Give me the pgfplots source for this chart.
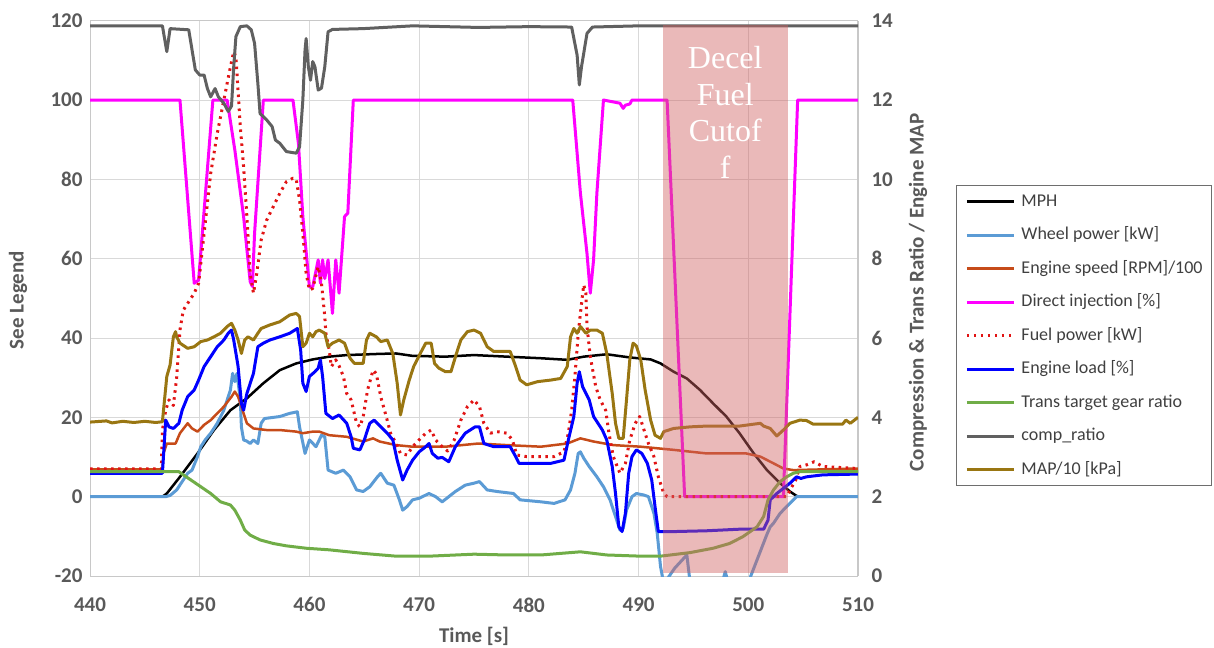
\documentclass[border=0pt]{standalone}
\usepackage{pgfplots}
\pgfplotsset{compat=1.18}
\usepackage{fontspec}
\setmainfont{Carlito}
\newfontfamily\serifface{Liberation Serif}

\definecolor{tickgrey}{RGB}{89,89,89}
\definecolor{gridgrey}{RGB}{217,217,217}
\definecolor{axisgrey}{RGB}{200,200,200}
\definecolor{legendgrey}{RGB}{110,110,110}
\definecolor{legendtext}{RGB}{64,64,64}
\definecolor{cMPH}{RGB}{0,0,0}
\definecolor{cWheel}{RGB}{91,155,213}
\definecolor{cSpeed}{RGB}{198,75,25}
\definecolor{cDI}{RGB}{255,0,255}
\definecolor{cFuel}{RGB}{225,20,20}
\definecolor{cLoad}{RGB}{0,0,255}
\definecolor{cGear}{RGB}{112,173,71}
\definecolor{cComp}{RGB}{96,96,96}
\definecolor{cMAP}{RGB}{153,118,18}
\definecolor{cShade}{RGB}{208,99,99}

\pgfplotsset{
  chartbase/.style={
    scale only axis, width=768bp, height=555.3bp,
    at={(90bp,72bp)}, anchor=south west,
    xmin=440, xmax=510, enlargelimits=false,
    major tick length=0pt, tick style={draw=none},
    /pgf/number format/assume math mode=true,
    ticklabel style={font=\fontsize{21bp}{24bp}\selectfont\bfseries, text=tickgrey},
    label style={font=\fontsize{21bp}{24bp}\selectfont\bfseries, text=tickgrey},
    axis line style={draw=axisgrey, line width=1bp},
    no markers,
    every axis plot/.append style={line join=round, line width=3bp},
    legend image code/.code={\draw[#1] (0bp,0bp) -- (47bp,0bp);},
  },
}

\begin{document}
\begin{tikzpicture}
\useasboundingbox (0,0) rectangle (1214bp,648bp);

% ---------- left axis: speeds, powers, percentages ----------
\begin{axis}[chartbase,
  ymin=-20, ymax=120,
  xtick={440,450,...,510}, ytick={-20,0,...,120},
  grid=major, grid style={draw=gridgrey, line width=1bp},
  xticklabel style={yshift=-18bp},
  yticklabel style={xshift=-4bp},
  xlabel={Time [s]}, ylabel={See Legend},
  xlabel style={at={(axis description cs:0.5,-0.108)}, anchor=center},
  ylabel style={at={(axis description cs:-0.0938,0.497)}, anchor=center},
]
% MPH
\addplot[cMPH, line width=2.5bp] coordinates {
(440,0)(446.6,0)(447.0,0.8)(448.2,5)(449.8,10.9)(451.3,16.8)(452.8,21.8)(454.3,24.8)
(455.8,28.6)(457.3,31.9)(458.8,33.6)(460.3,34.6)(461.8,35.3)(463.4,35.7)(466.4,36)
(467.9,36.1)(469.4,35.5)(472.4,35.3)(475.0,35.7)(478.0,35.3)(481.1,34.9)(483.5,34.5)
(485.0,35.3)(487.1,35.9)(489.2,35.1)(491.1,34.6)(492.0,33.6)(493.2,31.5)(494.4,29.8)
(495.6,26.9)(496.8,23.5)(498.0,20.2)(499.2,16)(500.5,10.9)(501.7,6.7)(502.9,3.4)
(503.8,1.3)(504.4,0.2)(504.6,0)(510,0)};
% Wheel power [kW]
\addplot[cWheel] coordinates {
(440,0)(446.9,0)(447.3,0.3)(447.9,1.7)(448.5,4.2)(448.9,5.9)(449.3,6.7)(449.8,10.1)
(450.1,12.6)(450.5,14.3)(451.0,16)(451.6,18.5)(452.2,21.8)(452.8,26.9)(453.0,31.1)
(453.2,29)(453.4,31.1)(453.7,24.4)(453.8,17.6)(454.0,14.3)(454.3,14)(454.6,13.4)
(454.9,14.3)(455.3,13.4)(455.6,18.5)(455.9,19.7)(457.3,20.2)(458.2,21)(458.9,21.4)
(459.1,17.6)(459.6,10.9)(460.0,14.3)(460.6,12.6)(461.1,15.5)(461.4,15.1)(461.7,6.7)
(462.4,5.9)(463.1,6.7)(463.7,5)(464.3,1.7)(464.9,1.3)(465.5,2.5)(466.2,5)(466.5,5.9)
(467.1,3.4)(467.7,2.9)(468.2,-0.8)(468.5,-3.4)(468.9,-2.5)(469.4,-0.8)(470.0,-0.4)
(470.9,0.8)(471.5,0)(472.1,-1.3)(472.7,0)(473.3,1.3)(474.2,2.9)(475.0,3.4)(475.5,3.8)
(476.2,1.7)(477.1,1.3)(478.6,0.8)(479.2,-0.8)(481.1,-1.3)(482.3,-1.7)(483.3,-0.8)
(483.8,1.7)(484.2,5.9)(484.5,10.9)(484.7,11.3)(485.0,9.7)(485.5,7.6)(486.2,5)
(486.8,2.5)(487.4,-0.8)(487.9,-5)(488.3,-8.4)(488.6,-8)(488.9,-3.4)(489.4,0)
(489.8,0.8)(490.5,0.4)(490.9,0)(491.4,-4.2)(491.7,-9.2)(492.0,-17.6)(492.3,-22)
(493.3,-18)(494.4,-14.7)(494.8,-24)(497.6,-22)(497.9,-18.9)(498.2,-22)(500.0,-22)
(500.2,-20.2)(501.0,-14.5)(501.7,-9.5)(502.0,-7.6)(502.3,-6.7)(502.9,-4.2)
(503.5,-2.5)(504.4,0)(510,0)};
% Engine speed [RPM]/100
\addplot[cSpeed, line width=2.5bp] coordinates {
(440,6.9)(446.6,6.9)(446.7,10.9)(447.0,13.4)(447.8,13.4)(448.2,16)(448.9,18.5)
(449.3,17.2)(449.8,16.4)(450.4,18.1)(451.0,19.3)(451.6,21)(452.2,22.7)(452.9,25.2)
(453.2,26.5)(453.5,25.2)(454.0,21)(454.3,18.5)(454.9,17.2)(456.1,16.8)(457.3,16.8)
(458.8,16.4)(459.4,16)(460.3,16.4)(460.9,16.4)(461.8,15.5)(463.4,15.1)(464.9,13.9)
(465.8,14.7)(466.4,13.9)(467.9,13)(469.4,12.6)(472.4,12.6)(475.4,13.4)(478.0,13)
(481.1,12.6)(483.5,13.4)(484.7,14.7)(485.9,13.9)(487.7,13)(490.2,12.6)(493.2,11.8)
(496.2,10.9)(499.8,10.9)(501.1,10.1)(502.3,8.4)(503.2,7.1)(504.1,6.7)(510,7.1)};
% Direct injection [%]
\addplot[cDI] coordinates {
(440,100)(448.2,100)(449.5,53.8)(449.9,54.6)(451.2,100)(452.5,100)(453.2,87.4)
(454.0,70.6)(454.6,54.2)(454.8,53)(455.0,66.4)(455.8,100)(458.5,100)(459.0,89)
(459.4,70.6)(460.0,52.9)(460.3,52.9)(460.8,59.7)(461.0,53.8)(461.2,59.7)(461.4,55)
(461.7,59.7)(462.1,46.2)(462.4,59.7)(462.7,51.3)(463.2,70.6)(463.5,71.5)(464.0,100)
(484.0,100)(484.7,76.5)(485.3,61.3)(485.6,51.3)(485.9,59.7)(486.2,76.5)(486.8,100)
(488.3,99.2)(488.6,97.9)(488.8,98.7)(489.2,99)(489.4,100)(492.6,100)(494.2,0)
(503.2,0)(504.5,100)(510,100)};
% Fuel power [kW]
\addplot[cFuel, line width=3bp, dash pattern=on 2.5bp off 4.5bp] coordinates {
(440,7)(446.5,7)(446.6,16.8)(446.9,21.8)(447.2,24.4)(447.6,23)(447.9,30)(448.2,42)
(448.5,47)(449.2,50)(449.5,51.3)(449.9,53.8)(450.4,66.4)(451.0,81.5)(451.6,91.6)
(452.2,100)(452.8,108.4)(453.1,112.2)(453.3,110.9)(453.7,93.3)(454.0,83.2)(454.3,70.6)
(454.6,56.3)(454.9,51.3)(455.2,56.3)(455.6,64.7)(456.1,69.7)(456.7,73.1)(457.3,76.5)
(457.9,79.4)(458.5,80.3)(458.8,80)(459.1,74.8)(459.4,66.4)(459.7,56.3)(460.0,52.1)
(460.3,52.5)(460.8,58)(461.1,53.8)(461.4,45.4)(461.5,41.2)(461.8,37)(462.0,32.8)
(462.4,34.5)(462.7,33)(463.1,30.3)(463.4,26)(463.8,24.4)(464.3,18.5)(464.6,17.6)
(464.9,20.2)(465.3,26.9)(465.8,31.9)(466.1,31)(466.5,25.2)(467.0,20.2)(467.4,16)
(467.9,13.4)(468.3,10.9)(468.9,10.5)(469.4,12.6)(470.0,14.3)(470.6,16)(471.1,16.8)
(471.5,14.3)(472.1,12.6)(472.6,11.5)(473.2,14.3)(473.8,19.3)(474.4,22.7)(475.0,24.4)
(475.5,22.7)(475.9,18.5)(476.5,16)(477.1,16.4)(478.0,16)(478.5,14.3)(478.9,10.5)
(479.8,10.1)(481.1,10.1)(482.3,10.1)(483.2,11.3)(483.6,16)(483.9,21.8)(484.2,30.3)
(484.5,41.2)(484.8,48.7)(485.0,53.4)(485.2,51.3)(485.3,42.9)(485.6,35.3)(486.1,27.7)
(486.5,24.4)(487.0,21.8)(487.3,16)(487.7,10.1)(488.3,5.9)(488.8,8.4)(489.2,14.3)
(489.7,18.5)(490.1,20.2)(490.5,16.8)(490.9,13.4)(491.4,10.1)(491.8,5)(492.3,0.8)
(492.6,0)(503.5,0)(503.8,1.7)(504.3,4)(504.7,7.6)(505.3,8)(506.0,8.8)(506.8,7.6)
(510,7.1)};
% Engine load [%]
\addplot[cLoad] coordinates {
(440,5.9)(446.6,5.9)(446.9,19.3)(447.2,17.6)(447.6,17.2)(448.1,18.5)(448.4,21.8)
(448.9,25.2)(449.5,26.9)(449.9,29.4)(450.4,32.8)(451.0,35.3)(451.6,37.8)(452.2,39.5)
(452.6,41.2)(452.9,42)(453.1,39.5)(453.5,32.8)(453.8,23.5)(454.0,21.8)(454.3,26)
(454.9,31.1)(455.3,37.8)(455.8,38.7)(456.4,39.5)(457.3,40.3)(458.2,41.2)(458.9,42.4)
(459.2,37)(459.4,28.6)(459.7,26.5)(460.0,30.3)(460.5,31.5)(460.8,32.4)(461.0,34.5)
(461.2,30.3)(461.5,21)(462.1,19.7)(462.7,20.6)(463.4,18.5)(463.8,15.1)(464.0,12.2)
(464.6,11.8)(465.0,14.3)(465.5,18.5)(465.9,19.3)(466.5,17.6)(467.1,16)(467.6,14.3)
(468.0,9.2)(468.5,4.2)(468.9,6.7)(469.4,9.2)(470.0,11.3)(470.6,12.6)(470.9,13.4)
(471.2,10.9)(471.7,9.7)(472.1,9.9)(472.7,8.8)(473.3,12.6)(474.2,16)(475.1,17.6)
(475.5,17.6)(475.9,13.4)(476.8,12.6)(478.3,12.6)(478.8,10.1)(479.1,8.4)(480.2,8.4)
(482.0,8.4)(483.2,9.2)(483.6,14.3)(484.1,20.2)(484.4,28.6)(484.6,31.5)(484.9,27.7)
(485.5,24.4)(485.9,20.2)(486.7,16.8)(487.1,14.3)(487.6,7.6)(487.9,0.8)(488.2,-7.6)
(488.5,-8.8)(488.8,-4.2)(489.1,5.9)(489.4,10.1)(489.8,11.8)(490.3,10.9)(490.8,8.4)
(491.2,4.2)(491.5,-2.5)(491.8,-8.8)(493.2,-8.8)(496.2,-8.6)(499.2,-8.2)(501.4,-8.2)
(501.8,-5.9)(502.0,-0.8)(502.6,0.8)(503.8,3.4)(504.4,5)(504.8,4.6)(505.3,5)
(506.8,5.5)(510,5.7)};
\end{axis}

% ---------- right axis: ratios and manifold pressure ----------
\begin{axis}[chartbase,
  ymin=0, ymax=14, ytick={0,2,...,14},
  axis y line*=right, axis x line=none,
  yticklabel style={xshift=10bp},
  ylabel={Compression \& Trans Ratio / Engine MAP},
  ylabel style={at={(axis description cs:1.078,0.511)}, anchor=center},
  legend cell align=left,
  legend style={at={(axis description cs:1.1276,0.7041)}, anchor=north west,
    draw=legendgrey, line width=1bp, text=legendtext,
    font=\fontsize{18bp}{20bp}\selectfont,
    inner xsep=9bp, inner ysep=7.5bp, row sep=16.5bp, column sep=6bp,
    nodes={inner sep=0bp, text height=13bp, text depth=4bp}},
]
\addlegendimage{cMPH, line width=2.5bp}
\addlegendentry{MPH}
\addlegendimage{cWheel, line width=3bp}
\addlegendentry{Wheel power [kW]}
\addlegendimage{cSpeed, line width=2.5bp}
\addlegendentry{Engine speed [RPM]/100}
\addlegendimage{cDI, line width=3bp}
\addlegendentry{Direct injection [\%]}
\addlegendimage{cFuel, line width=3bp, dash pattern=on 2.5bp off 4.5bp}
\addlegendentry{Fuel power [kW]}
\addlegendimage{cLoad, line width=3bp}
\addlegendentry{Engine load [\%]}
% Trans target gear ratio
\addplot[cGear] coordinates {
(440,2.63)(448.1,2.63)(448.5,2.55)(449.2,2.42)(450.1,2.25)(451.0,2.08)(451.9,1.87)
(452.8,1.79)(453.2,1.66)(453.7,1.41)(454.1,1.16)(454.6,1.03)(455.5,0.91)(456.7,0.82)
(457.9,0.76)(459.7,0.70)(461.8,0.66)(464.9,0.57)(467.9,0.50)(470.9,0.50)(475.0,0.55)
(478.0,0.53)(481.1,0.53)(484.7,0.61)(487.1,0.53)(490.2,0.50)(492.0,0.50)(494.7,0.59)
(496.8,0.70)(498.3,0.82)(499.5,0.99)(500.8,1.24)(501.4,1.50)(501.8,1.92)(502.3,2.17)
(502.9,2.38)(503.5,2.50)(504.1,2.59)(504.7,2.63)(510,2.63)};
\addlegendentry{Trans target gear ratio}
% comp_ratio
\addplot[cComp] coordinates {
(440,13.87)(446.6,13.87)(447.0,13.22)(447.3,13.80)(449.0,13.77)(449.6,12.76)
(450.0,12.63)(450.4,12.63)(450.7,12.29)(451.0,12.08)(451.4,12.29)(451.7,12.08)
(452.2,11.92)(452.6,11.71)(452.9,11.85)(453.1,12.84)(453.3,13.6)(453.7,13.85)
(454.3,13.87)(454.7,13.77)(455.0,13.43)(455.3,12.42)(455.5,11.66)(456.1,11.5)
(456.6,11.33)(456.9,10.99)(457.3,10.91)(457.9,10.7)(458.8,10.66)(459.1,10.82)
(459.4,12.0)(459.6,13.26)(459.7,13.55)(459.9,12.84)(460.1,12.5)(460.3,12.97)
(460.5,12.84)(460.8,12.25)(461.1,12.3)(461.4,12.84)(461.7,13.72)(462.1,13.78)
(464.9,13.8)(469.4,13.87)(475.4,13.83)(480,13.85)(483.9,13.84)(484.4,13.13)
(484.6,12.38)(484.8,12.84)(485.3,13.68)(485.8,13.84)(490,13.87)(510,13.87)};
\addlegendentry{comp\_ratio}
% MAP/10 [kPa]
\addplot[cMAP] coordinates {
(440,3.88)(441.5,3.91)(442,3.86)(443,3.90)(444,3.87)(445,3.90)(446,3.87)(446.6,3.89)
(446.7,4.18)(447.0,5.03)(447.3,5.32)(447.6,6.03)(447.8,6.16)(447.9,6.03)(448.2,5.87)
(448.9,5.74)(449.5,5.78)(450.1,5.91)(450.7,5.95)(451.3,6.03)(451.9,6.12)(452.5,6.29)
(452.9,6.37)(453.2,6.20)(453.5,5.95)(453.8,5.61)(454.1,5.95)(454.4,6.03)(454.9,5.95)
(455.3,6.12)(455.6,6.24)(456.4,6.33)(457.3,6.41)(458.2,6.58)(458.8,6.62)(459.1,6.54)
(459.4,5.78)(459.7,5.87)(460.0,6.12)(460.3,6.03)(460.6,6.16)(460.9,6.20)(461.4,6.12)
(461.7,5.78)(462.1,5.87)(462.7,5.95)(463.2,5.87)(463.7,5.49)(464.1,5.36)(464.9,5.36)
(465.2,5.95)(465.5,6.12)(466.1,6.03)(466.5,5.91)(467.1,5.95)(467.6,5.61)(468.0,4.86)
(468.3,4.06)(468.6,4.44)(469.1,4.94)(469.5,5.28)(470.1,5.61)(470.6,5.87)(471.1,5.87)
(471.4,5.36)(471.8,5.24)(472.4,5.15)(472.9,5.15)(473.4,5.61)(473.8,5.95)(474.4,6.16)
(475.0,6.20)(475.6,6.12)(476.2,5.78)(476.8,5.66)(478.3,5.66)(478.8,5.28)(479.2,4.94)
(479.8,4.82)(480.8,4.90)(482.0,4.94)(482.9,4.98)(483.5,5.28)(483.8,6.03)(484.1,6.24)
(484.4,6.12)(484.7,6.29)(485.2,6.12)(485.6,6.20)(486.2,6.20)(486.7,6.12)(487.1,5.61)
(487.6,4.60)(487.9,3.85)(488.2,3.47)(488.6,3.47)(488.9,4.44)(489.2,5.45)(489.5,5.87)
(489.8,5.80)(490.2,5.45)(490.6,4.69)(491.1,3.93)(491.5,3.55)(492.0,3.47)(492.3,3.64)
(493.2,3.72)(494.7,3.76)(496.2,3.78)(499.2,3.78)(501.1,3.85)(501.4,3.78)(502.0,3.72)
(502.6,3.53)(503.2,3.68)(503.8,3.85)(504.7,3.93)(505.3,3.92)(505.9,3.83)(508.6,3.83)
(508.9,3.93)(509.3,3.85)(510,4.00)};
\addlegendentry{MAP/10  [kPa]}
% fuel cutoff window, laid over the traces
\fill[cShade, fill opacity=0.45] (axis cs:492.2,0.07) rectangle (axis cs:503.6,13.89);
\node[anchor=north, align=center, inner sep=0pt, text=white,
  font=\serifface\fontsize{32bp}{36.5bp}\selectfont]
  at (axis cs:497.9,13.35) {Decel\\Fuel\\Cutof\\f};
\end{axis}
\end{tikzpicture}
\end{document}
